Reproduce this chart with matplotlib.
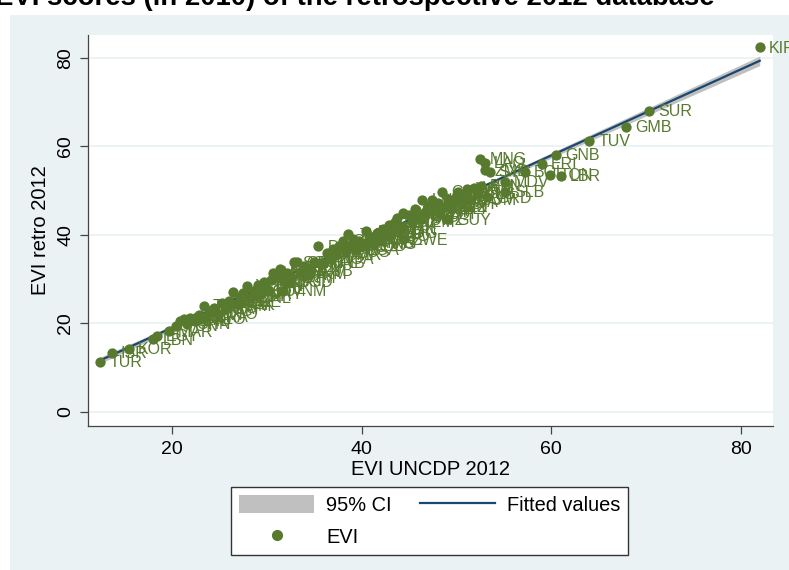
import matplotlib
matplotlib.use('Agg')
import matplotlib.pyplot as plt
from matplotlib.patches import Rectangle, Patch
from matplotlib.lines import Line2D
import numpy as np

plt.rcParams['font.family'] = ['Liberation Sans', 'DejaVu Sans']

# EVI 2012 (UNCDP) vs EVI retro 2012
codes = ['TUR', 'ISR', 'KOR', 'LBN', 'EGY', 'MAR', 'TUN', 'JOR', 'DZA', 'CHN',
         'IRN', 'IND', 'MEX', 'THA', 'BRA', 'ARG', 'MYS', 'TTO', 'SAU', 'ZAF',
         'GEO', 'COL', 'SYR', 'PAK', 'ARM', 'PER', 'IDN', 'AZE', 'VEN', 'CHL',
         'ECU', 'BIH', 'OMN', 'URY', 'KAZ', 'PHL', 'BHR', 'MKD', 'VNM', 'LKA',
         'MDA', 'KWT', 'QAT', 'BGD', 'ARE', 'GTM', 'SGP', 'CRI', 'PAN', 'SLV',
         'TKM', 'CUB', 'PRY', 'DOM', 'NPL', 'BRB', 'HND', 'NGA', 'GHA', 'CMR',
         'KEN', 'CIV', 'MUS', 'JAM', 'NIC', 'SEN', 'UGA', 'TZA', 'COD', 'AGO',
         'MMR', 'KHM', 'ATG', 'PNG', 'UZB', 'GAB', 'BEN', 'TGO', 'ETH', 'MDG',
         'MOZ', 'COG', 'GIN', 'ZWE', 'BFA', 'FJI', 'HTI', 'YEM', 'SOM', 'AFG',
         'SWZ', 'LSO', 'MWI', 'NAM', 'NER', 'TCD', 'RWA', 'GUY', 'BLZ', 'BDI',
         'CAF', 'SDN', 'SLE', 'MLI', 'BWA', 'DJI', 'MRT', 'STP', 'CPV', 'WSM',
         'COM', 'VUT', 'TLS', 'BTN', 'GRD', 'MNG', 'LAO', 'ZMB', 'SYC', 'MDV',
         'SLB', 'BOL', 'ERI', 'TON', 'LBR', 'GNB', 'TUV', 'GMB', 'SUR', 'KIR']
evi_uncdp = [12.4, 13.6, 15.4, 18.0, 18.4, 19.6, 20.4, 20.8, 21.2, 21.6,
             21.9, 22.4, 22.8, 23.3, 23.6, 24.0, 24.4, 24.8, 25.2, 25.6,
             23.0, 26.0, 26.4, 26.7, 25.9, 27.1, 27.5, 27.3, 27.9, 28.2,
             28.6, 28.9, 29.0, 29.3, 29.7, 30.0, 30.4, 30.6, 31.7, 31.1,
             31.7, 31.4, 31.8, 32.4, 32.1, 32.5, 32.8, 33.2, 33.5, 33.9,
             34.0, 34.6, 35.0, 35.4, 35.6, 36.0, 36.3, 36.7, 37.0, 37.3,
             37.6, 38.0, 38.3, 38.5, 38.8, 39.1, 39.4, 39.7, 40.0, 40.4,
             40.7, 41.0, 41.4, 41.3, 41.6, 41.9, 42.2, 42.6, 42.9, 43.2,
             43.5, 43.7, 44.0, 44.4, 44.3, 44.4, 45.0, 45.3, 45.6, 45.9,
             46.2, 46.4, 46.7, 47.0, 47.4, 47.7, 48.0, 49.0, 49.3, 48.2,
             48.5, 48.8, 49.1, 49.4, 49.7, 50.0, 50.2, 50.5, 50.8, 51.1,
             51.4, 51.8, 52.2, 52.6, 53.2, 52.5, 53.0, 53.0, 53.5, 55.1,
             55.1, 57.2, 59.0, 59.9, 61.0, 60.5, 64.0, 67.9, 70.3, 82.0]
evi_retro = [11.3, 13.3, 14.2, 16.4, 17.1, 18.2, 19.5, 20.5, 20.9, 19.8,
             21.2, 20.6, 22.0, 23.9, 21.4, 22.8, 23.5, 22.2, 24.6, 23.4,
             21.1, 25.1, 27.0, 24.3, 23.9, 25.9, 26.8, 24.9, 28.4, 25.7,
             27.3, 26.2, 28.6, 26.6, 29.4, 27.8, 29.9, 31.5, 27.3, 30.7,
             31.0, 32.2, 29.6, 29.3, 31.5, 30.4, 33.8, 33.8, 31.6, 32.9,
             31.2, 32.0, 33.9, 37.4, 33.6, 33.6, 35.9, 34.5, 36.8, 35.4,
             37.5, 38.6, 36.2, 40.1, 37.4, 39.0, 36.7, 38.6, 37.5, 40.8,
             38.2, 39.6, 38.3, 37.9, 40.4, 38.9, 41.3, 39.8, 42.2, 40.5,
             43.0, 43.9, 41.2, 39.0, 45.0, 41.7, 44.6, 42.9, 45.8, 44.1,
             43.5, 48.0, 45.2, 46.6, 48.0, 45.9, 47.2, 43.5, 46.4, 44.8,
             49.8, 46.4, 48.2, 45.9, 47.5, 49.1, 49.8, 47.0, 48.6, 50.4,
             47.9, 50.7, 49.2, 51.1, 48.5, 57.2, 56.3, 54.6, 54.3, 52.0,
             49.8, 54.3, 56.1, 53.6, 53.4, 58.1, 61.3, 64.4, 68.0, 82.4]

green = '#587A2E'
navy = '#1A476F'
ci_gray = '#C0C0C0'
bg = '#EAF2F3'

x = np.array(evi_uncdp)
y = np.array(evi_retro)

# linear fit with 95% CI of the mean (like Stata lfitci)
b, a = np.polyfit(x, y, 1)
n = len(x)
resid = y - (a + b * x)
s = np.sqrt(np.sum(resid ** 2) / (n - 2))
xs = np.linspace(x.min(), x.max(), 200)
fit = a + b * xs
se = s * np.sqrt(1.0 / n + (xs - x.mean()) ** 2 / np.sum((x - x.mean()) ** 2))
t = 1.977

fig = plt.figure(figsize=(7.89, 5.70), dpi=100, facecolor='white')
fig.add_artist(Rectangle((10 / 789, 0), 1, 555 / 570, transform=fig.transFigure,
                         facecolor=bg, edgecolor='none', zorder=-5))

ax = fig.add_axes([88 / 789, 1 - 426 / 570, (773 - 88) / 789, (426 - 35) / 570])
ax.set_facecolor('white')

ax.fill_between(xs, fit - t * se, fit + t * se, color=ci_gray, lw=0, zorder=2)
ax.plot(xs, fit, color=navy, lw=1.6, zorder=2.5)
ax.scatter(x, y, s=55, color=green, linewidths=0, zorder=3)
for c, xi, yi in zip(codes, x, y):
    ax.annotate(c, (xi, yi), xytext=(6.5, -0.5), textcoords='offset points',
                va='center', ha='left', fontsize=11.5, color=green, zorder=4)

ax.set_xlim(11.1, 83.4)
ax.set_ylim(-3.2, 85.2)
ax.set_xticks([20, 40, 60, 80])
ax.set_yticks([0, 20, 40, 60, 80])
ax.grid(axis='y', color=bg, lw=1.3, zorder=0)
ax.set_axisbelow(True)
for side in ['top', 'right']:
    ax.spines[side].set_visible(False)
for side in ['left', 'bottom']:
    ax.spines[side].set_color('#444444')
    ax.spines[side].set_linewidth(0.9)
ax.tick_params(axis='both', length=6, width=0.9, color='#444444', labelsize=14)
ax.tick_params(axis='x', pad=5)
ax.tick_params(axis='y', pad=4)
for lab in ax.get_yticklabels():
    lab.set_rotation(90)
    lab.set_va('center')

ax.set_xlabel('EVI UNCDP 2012', fontsize=14.5, labelpad=1)
ax.set_ylabel('EVI retro 2012', fontsize=14.5, labelpad=5)

handles = [Patch(facecolor=ci_gray, edgecolor='none'),
           Line2D([], [], ls='none', marker='o', ms=7, color=green),
           Line2D([], [], color=navy, lw=1.6)]
fig.legend(handles, ['95% CI', 'EVI', 'Fitted values'], ncol=2, loc='center',
           bbox_to_anchor=(0.5444, 0.086), fontsize=14.4, frameon=True,
           fancybox=False, edgecolor='#333333', framealpha=1,
           handlelength=3.75, handleheight=1.05, handletextpad=0.6,
           columnspacing=1.4, labelspacing=0.6, borderpad=0.4)

fig.text(0.45, 1 - 5 / 570, 'EVI scores (in 2010) of the retrospective 2012 database',
         ha='center', va='baseline', fontsize=19.8, fontweight='bold')

fig.savefig('out.png', dpi=100, facecolor='white')
